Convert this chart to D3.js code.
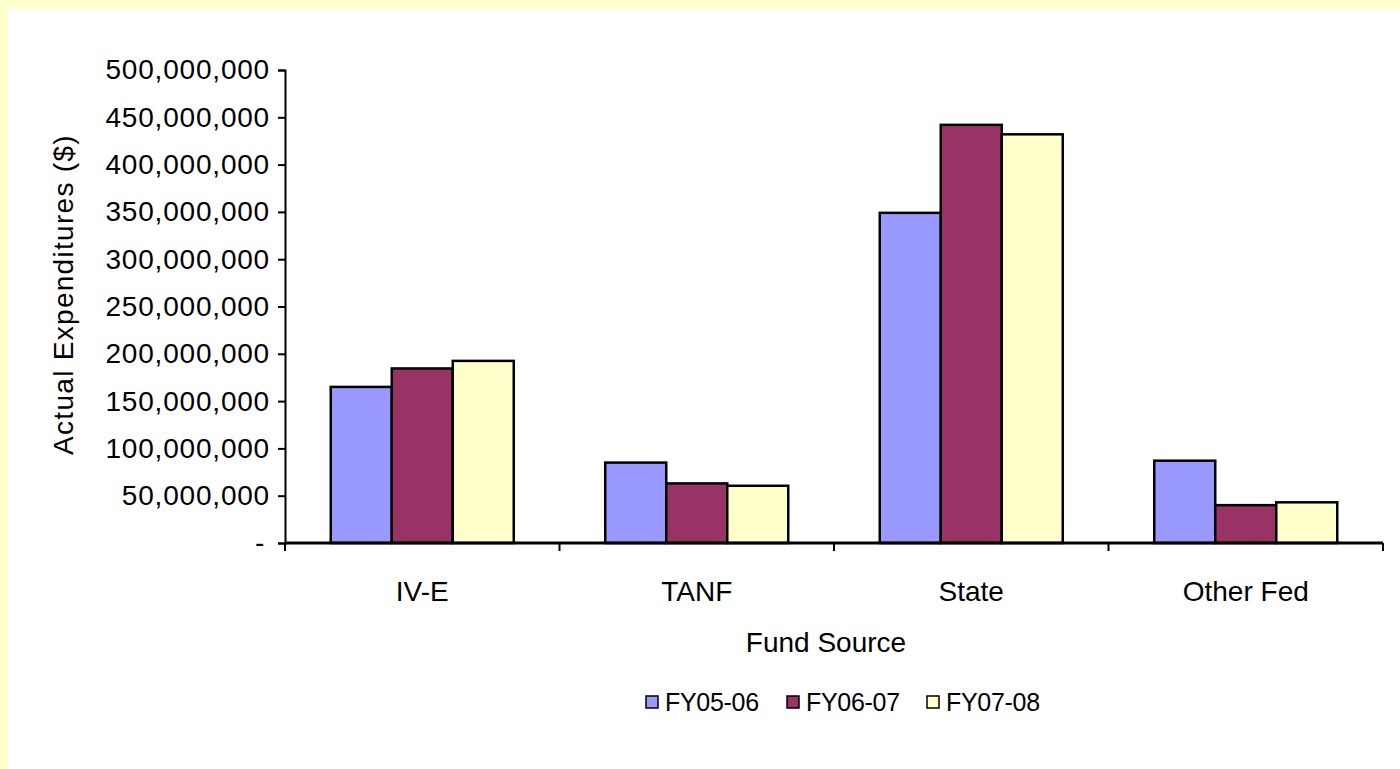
<!DOCTYPE html>
<html>
<head>
<meta charset="utf-8">
<script src="https://cdn.jsdelivr.net/npm/d3@7"></script>
<style>
  body { margin: 0; background: #ffffcc; }
  svg { display: block; }
  text { font-family: "Liberation Sans", Arial, sans-serif; fill: #000; }
</style>
</head>
<body>
<div id="chart"></div>
<script>
var width = 1400,
    height = 769

// data
var categories = ["IV-E", "TANF", "State", "Other Fed"]
var seriesNames = ["FY05-06", "FY06-07", "FY07-08"]
var fy0506 = [165000000, 85000000, 349000000, 87000000]
var fy0607 = [184500000, 63000000, 442000000, 40000000]
var fy0708 = [192500000, 60500000, 432000000, 43000000]
var yTicks = [0, 50000000, 100000000, 150000000, 200000000, 250000000, 300000000, 350000000, 400000000, 450000000, 500000000]

var seriesValues = [fy0506, fy0607, fy0708]
var colors = ["#9999ff", "#993366", "#ffffcc"]

var margin = {left: 285, right: 17, top: 70, bottom: 226}

var svg = d3.select("#chart")
  .append("svg")
    .attr("width", width)
    .attr("height", height)

// yellow frame, white plot area
svg.append("rect")
  .attr("x", 8).attr("y", 9)
  .attr("width", width - 8).attr("height", height - 9)
  .attr("fill", "#fff")

var g = svg.append("g")
  .attr("transform", "translate(" + margin.left + "," + margin.top + ")")

var w = width - margin.left - margin.right,
    h = height - margin.top - margin.bottom

var x = d3.scaleBand()
  .domain(categories)
  .range([0, w])
  .paddingInner(0)
  .paddingOuter(0)

var xSub = d3.scaleBand()
  .domain(seriesNames)
  .range([0, x.bandwidth()])
  .paddingOuter(0.75)
  .paddingInner(0)

var y = d3.scaleLinear()
  .domain([0, 500000000])
  .range([h, 0])

var fmt = d3.format(",")

// bars
var groups = g.selectAll(".grp")
  .data(categories)
  .enter()
  .append("g")
    .attr("transform", function(d) { return "translate(" + x(d) + ",0)" })

groups.selectAll("rect")
  .data(function(d, i) {
    return seriesNames.map(function(s, j) { return {s: s, v: seriesValues[j][i], j: j} })
  })
  .enter()
  .append("rect")
    .attr("x", function(d) { return xSub(d.s) })
    .attr("y", function(d) { return y(d.v) })
    .attr("width", xSub.bandwidth())
    .attr("height", function(d) { return h - y(d.v) })
    .attr("fill", function(d) { return colors[d.j] })
    .attr("stroke", "#000")
    .attr("stroke-width", 2.5)

// y axis
var yAxis = g.append("g")
  .call(d3.axisLeft(y).tickValues(yTicks).tickSize(7).tickPadding(8)
    .tickFormat(function(d) { return d === 0 ? "-" : fmt(d) }))
yAxis.select(".domain").attr("stroke-width", 2)
yAxis.selectAll(".tick line").attr("stroke-width", 2)
yAxis.selectAll("text")
  .style("font-size", "28px")
  .style("letter-spacing", "0.8px")
yAxis.selectAll(".tick").filter(function(d) { return d === 0 })
  .select("text").attr("x", -20)

// x axis
var boundaries = categories.map(function(c) { return x(c) }).concat([w])
g.append("line")
  .attr("x1", 0).attr("x2", w)
  .attr("y1", h).attr("y2", h)
  .attr("stroke", "#000").attr("stroke-width", 3)
g.selectAll(".xtick")
  .data(boundaries)
  .enter()
  .append("line")
    .attr("x1", function(d) { return d }).attr("x2", function(d) { return d })
    .attr("y1", h).attr("y2", h + 8)
    .attr("stroke", "#000").attr("stroke-width", 2)
g.selectAll(".xlab")
  .data(categories)
  .enter()
  .append("text")
    .attr("x", function(d) { return x(d) + x.bandwidth() / 2 })
    .attr("y", h + 58)
    .attr("text-anchor", "middle")
    .style("font-size", "28px")
    .text(function(d) { return d })

// axis titles
g.append("text")
  .attr("x", w / 2 - 8)
  .attr("y", h + 109)
  .attr("text-anchor", "middle")
  .style("font-size", "28px")
  .text("Fund Source")

g.append("text")
  .attr("transform", "translate(" + (-212) + "," + (h / 2 - 12) + ") rotate(-90)")
  .attr("text-anchor", "middle")
  .style("font-size", "28px")
  .style("letter-spacing", "1.3px")
  .text("Actual Expenditures ($)")

// legend
var legendX = [646, 787, 927]
var legend = svg.selectAll(".leg")
  .data(seriesNames)
  .enter()
  .append("g")
    .attr("transform", function(d, i) { return "translate(" + legendX[i] + ",696)" })
legend.append("rect")
  .attr("width", 12).attr("height", 12)
  .attr("fill", function(d, i) { return colors[i] })
  .attr("stroke", "#000").attr("stroke-width", 1.5)
legend.append("text")
  .attr("x", 19).attr("y", 15)
  .style("font-size", "25px")
  .style("letter-spacing", "-0.3px")
  .text(function(d) { return d })
</script>
</body>
</html>
